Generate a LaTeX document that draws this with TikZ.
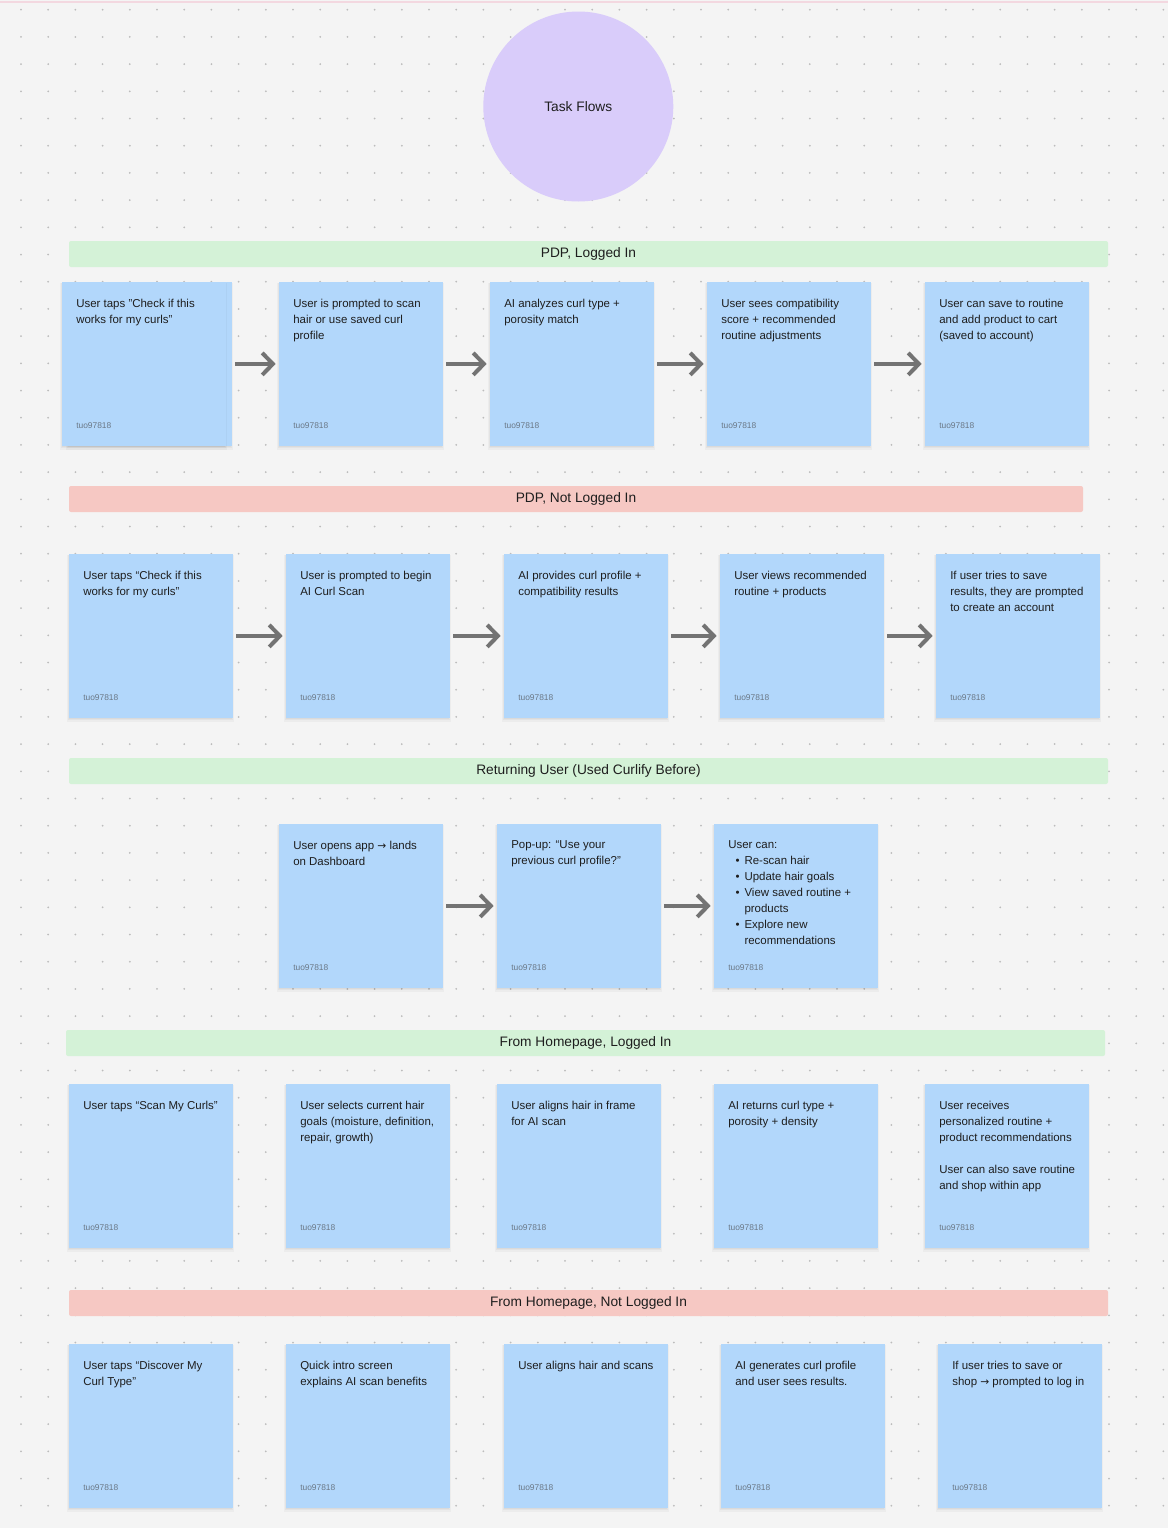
\documentclass[tikz,border=0pt]{standalone}
\usepackage{fontspec}
\setmainfont{Liberation Sans}
\newfontfamily\symfont{DejaVu Sans}
\usetikzlibrary{arrows.meta}
\definecolor{bg}{HTML}{F4F4F4}
\definecolor{dotc}{HTML}{BCBCBC}
\definecolor{notebl}{HTML}{B2D7FB}
\definecolor{bandg}{HTML}{D4F2D7}
\definecolor{bandr}{HTML}{F6C8C3}
\definecolor{circ}{HTML}{D9CCFA}
\definecolor{arrowg}{HTML}{737373}
\definecolor{ink}{HTML}{1E1E1E}
\definecolor{foot}{HTML}{6B7886}
\definecolor{topline}{HTML}{F3D8E0}
\newcommand\notefont{\fontsize{8.6}{12}\selectfont}
\newcommand\headfont{\fontsize{10.3}{12}\selectfont}
\newcommand\tagfont{\fontsize{6.3}{8}\selectfont}
\newcommand\bul{\makebox[12.2pt][l]{\hspace{5.5pt}•}}
\newcommand\rarr{{\symfont\fontsize{8}{12}\selectfont →}}
% soft shadow under a note: left, top
\newcommand\softshadow[2]{%
  \fill[black,opacity=0.03] (#1-2,#2+1) rectangle (#1+165.3,#2+168);
  \fill[black,opacity=0.035] (#1-1,#2+1) rectangle (#1+164.3,#2+166);
  \fill[black,opacity=0.04] (#1,#2+1) rectangle (#1+163.3,#2+164.5);}
% one sticky note: name, left, top, text
\newcommand\sticky[4]{%
  \softshadow{#2}{#3}
  \node[sticky] (#1) at (#2,#3) {};
  \node[stickytext] (#1t) at ([xshift=10.5pt,yshift=-12.4pt]#1.north west) {#4};
  \node[tag] (#1f) at ([xshift=10.5pt,yshift=-107.6pt]#1.north west) {tuo97818};}
\tikzset{
  sticky/.style={fill=notebl,anchor=north west,inner sep=0pt,
    minimum width=122.5pt,minimum height=122.5pt},
  stickytext/.style={anchor=north west,inner sep=0pt,align=left,
    font=\notefont,text=ink},
  tag/.style={anchor=west,inner sep=0pt,font=\tagfont,text=foot},
  bandtext/.style={inner sep=0pt,font=\headfont,text=ink},
  flow/.style={draw=arrowg,line width=3pt,
    -{Straight Barb[length=8pt,width=16.5pt]},
    shorten <=2.5pt,shorten >=2.5pt}
}
\begin{document}
\begin{tikzpicture}[x=0.75pt,y=-0.75pt]
\useasboundingbox (0,0) rectangle (1168,1528);
\fill[bg] (0,0) rectangle (1168,1528);
\draw[topline,line width=1.5pt] (0,1.5)--(1168,1.5);
% dot grid
\foreach \i in {0,...,42}
  \foreach \j in {0,...,55}
    \fill[dotc] ({21+27.2*\i},{9.7+27.2*\j}) circle[radius=0.75pt];

\node[circle,fill=circ,minimum size=142.5pt,inner sep=0pt,
  font=\headfont,text=ink] (title) at (578.3,106.5) {Task Flows};

% PDP, logged in
\fill[bandg,rounded corners=1.5pt] (69,241) rectangle (1108,267);
\node[bandtext] (band1) at (588.5,254) {PDP, Logged In};
\softshadow{68}{282}
\node[sticky] (a1b) at (68,282) {};
\sticky{a1}{62}{282}{User taps "Check if this\\works for my curls"}
\sticky{a2}{279}{282}{User is prompted to scan\\hair or use saved curl\\profile}
\sticky{a3}{490}{282}{AI analyzes curl type +\\porosity match}
\sticky{a4}{707}{282}{User sees compatibility\\score + recommended\\routine adjustments}
\sticky{a5}{925}{282}{User can save to routine\\and add product to cart\\(saved to account)}
\draw[flow] (a1b) -- (a2);
\draw[flow] (a2) -- (a3);
\draw[flow] (a3) -- (a4);
\draw[flow] (a4) -- (a5);

% PDP, not logged in
\fill[bandr,rounded corners=1.5pt] (69,486) rectangle (1083,512);
\node[bandtext] (band2) at (576,499) {PDP, Not Logged In};
\sticky{b1}{69}{554}{User taps “Check if this\\works for my curls”}
\sticky{b2}{286}{554}{User is prompted to begin\\AI Curl Scan}
\sticky{b3}{504}{554}{AI provides curl profile +\\compatibility results}
\sticky{b4}{720}{554}{User views recommended\\routine + products}
\sticky{b5}{936}{554}{If user tries to save\\results, they are prompted\\to create an account}
\draw[flow] (b1) -- (b2);
\draw[flow] (b2) -- (b3);
\draw[flow] (b3) -- (b4);
\draw[flow] (b4) -- (b5);

% returning user
\fill[bandg,rounded corners=1.5pt] (69,758) rectangle (1108,784);
\node[bandtext] (band3) at (588.5,771) {Returning User (Used Curlify Before)};
\sticky{c1}{279}{824}{User opens app \rarr{} lands\\on Dashboard}
\sticky{c2}{497}{824}{Pop-up: “Use your\\previous curl profile?”}
\sticky{c3}{714}{824}{User can:\\\bul Re-scan hair\\\bul Update hair goals\\\bul View saved routine +\\\hspace*{12.2pt}products\\\bul Explore new\\\hspace*{12.2pt}recommendations}
\draw[flow] (c1) -- (c2);
\draw[flow] (c2) -- (c3);

% homepage, logged in
\fill[bandg,rounded corners=1.5pt] (66,1030) rectangle (1105,1056);
\node[bandtext] (band4) at (585.5,1043) {From Homepage, Logged In};
\sticky{d1}{69}{1084}{User taps “Scan My Curls”}
\sticky{d2}{286}{1084}{User selects current hair\\goals (moisture, definition,\\repair, growth)}
\sticky{d3}{497}{1084}{User aligns hair in frame\\for AI scan}
\sticky{d4}{714}{1084}{AI returns curl type +\\porosity + density}
\sticky{d5}{925}{1084}{User receives\\personalized routine +\\product recommendations\\[12pt]User can also save routine\\and shop within app}

% homepage, not logged in
\fill[bandr,rounded corners=1.5pt] (69,1290) rectangle (1108,1316);
\node[bandtext] (band5) at (588.5,1303) {From Homepage, Not Logged In};
\sticky{e1}{69}{1344}{User taps “Discover My\\Curl Type”}
\sticky{e2}{286}{1344}{Quick intro screen\\explains AI scan benefits}
\sticky{e3}{504}{1344}{User aligns hair and scans}
\sticky{e4}{721}{1344}{AI generates curl profile\\and user sees results.}
\sticky{e5}{938}{1344}{If user tries to save or\\shop \rarr{} prompted to log in}
\end{tikzpicture}
\end{document}
